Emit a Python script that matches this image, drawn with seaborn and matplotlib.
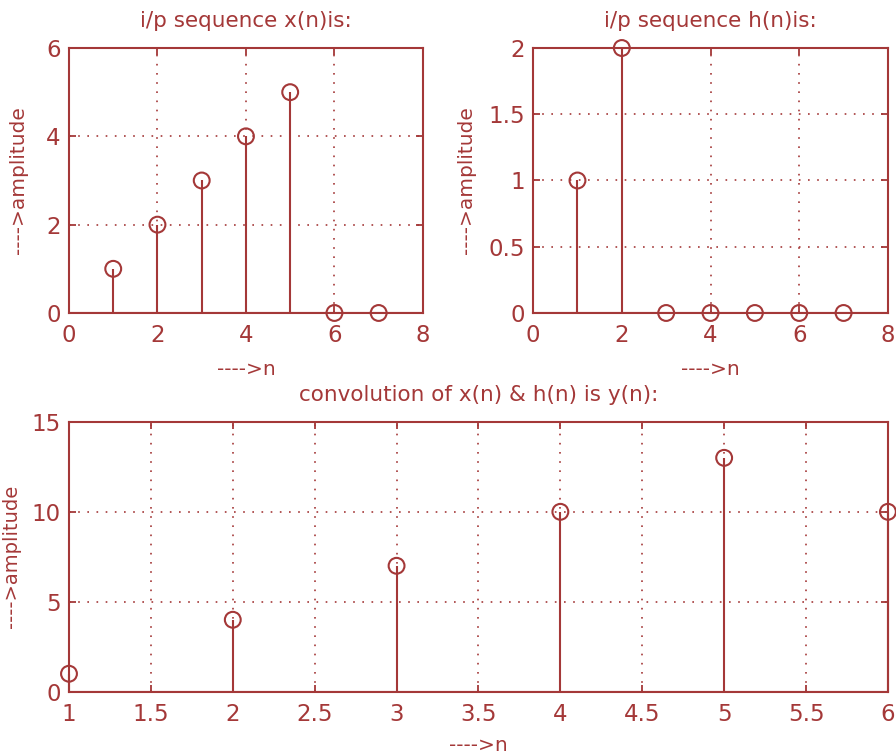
import numpy as np
import pandas as pd
import matplotlib
matplotlib.use("Agg")
import matplotlib.pyplot as plt
import seaborn as sns

# ---- data ----
n_x = [1, 2, 3, 4, 5, 6, 7]
x_vals = [1, 2, 3, 4, 5, 0, 0]
n_h = [1, 2, 3, 4, 5, 6, 7]
h_vals = [1, 2, 0, 0, 0, 0, 0]
n_y = [1, 2, 3, 4, 5, 6]
y_vals = [1, 4, 7, 10, 13, 10]

titles = ["i/p sequence x(n)is:", "i/p sequence h(n)is:", "convolution of x(n) & h(n) is y(n):"]
xlabel = "---->n"
ylabel = "---->amplitude"

x_ticks_top = [0, 2, 4, 6, 8]
x_ticks_bot = [1, 1.5, 2, 2.5, 3, 3.5, 4, 4.5, 5, 5.5, 6]
x_ticklabels_bot = ["1", "1.5", "2", "2.5", "3", "3.5", "4", "4.5", "5", "5.5", "6"]
y_ticks_x = [0, 2, 4, 6]
y_ticks_h = [0, 0.5, 1, 1.5, 2]
y_ticklabels_h = ["0", "0.5", "1", "1.5", "2"]
y_ticks_y = [0, 5, 10, 15]

C = "#A43838"

sns.set_theme(style="white")
plt.rcParams["font.family"] = ["DejaVu Sans"]
plt.rcParams["text.color"] = C
plt.rcParams["axes.labelcolor"] = C

fig = plt.figure(figsize=(8.96, 7.56), dpi=100)
ax1 = fig.add_axes([0.077, 0.586, 0.395, 0.3505])
ax2 = fig.add_axes([0.595, 0.586, 0.396, 0.3505])
ax3 = fig.add_axes([0.077, 0.085, 0.914, 0.357])

TICK_FS = 16.5
TITLE_FS = 15.5
LAB_FS = 14.5


def stem(ax, n, v):
    df = pd.DataFrame({"n": n, "v": v})
    ax.vlines(df["n"], 0, df["v"], color=C, lw=1.5, zorder=3, clip_on=False)
    ax.axhline(0, color=C, lw=1.5, zorder=3)
    sns.scatterplot(data=df, x="n", y="v", ax=ax, marker="o", s=130,
                    facecolors="none", edgecolor=C, linewidth=1.5,
                    zorder=4, clip_on=False, legend=False)


def style(ax, title, xt, xtl, yt, ytl, xlim, ylim, ylab_x, ylab_fs, tpad, xlpad):
    ax.set_xlim(*xlim)
    ax.set_ylim(*ylim)
    ax.set_xticks(xt)
    ax.set_xticklabels(xtl)
    ax.set_yticks(yt)
    ax.set_yticklabels(ytl)
    ax.grid(True, linestyle=(0, (1, 4.5)), color=C, lw=1.2)
    for s in ax.spines.values():
        s.set_color(C)
        s.set_linewidth(1.5)
        s.set_visible(True)
    ax.tick_params(direction="in", length=5, width=1.3, color=C,
                   labelcolor=C, labelsize=TICK_FS, top=True, right=True,
                   bottom=True, left=True)
    ax.tick_params(axis="x", pad=8)
    ax.tick_params(axis="y", pad=6)
    ax.set_title(title, fontsize=TITLE_FS, color=C, pad=tpad)
    ax.set_xlabel(xlabel, fontsize=LAB_FS, color=C, labelpad=xlpad)
    ax.set_ylabel(ylabel, fontsize=ylab_fs, color=C)
    ax.yaxis.set_label_coords(ylab_x, 0.5)
    ax.set_facecolor("white")


stem(ax1, n_x, x_vals)
style(ax1, titles[0], x_ticks_top, [str(t) for t in x_ticks_top],
      y_ticks_x, [str(t) for t in y_ticks_x], (0, 8), (0, 6), -0.116, LAB_FS, 15, 9)

stem(ax2, n_h, h_vals)
style(ax2, titles[1], x_ticks_top, [str(t) for t in x_ticks_top],
      y_ticks_h, y_ticklabels_h, (0, 8), (0, 2), -0.160, LAB_FS, 15, 9)

stem(ax3, n_y, y_vals)
style(ax3, titles[2], x_ticks_bot, x_ticklabels_bot,
      y_ticks_y, [str(t) for t in y_ticks_y], (1, 6), (0, 15), -0.058, 14, 15, 7.5)

fig.savefig("out.png", dpi=100, facecolor="white")
